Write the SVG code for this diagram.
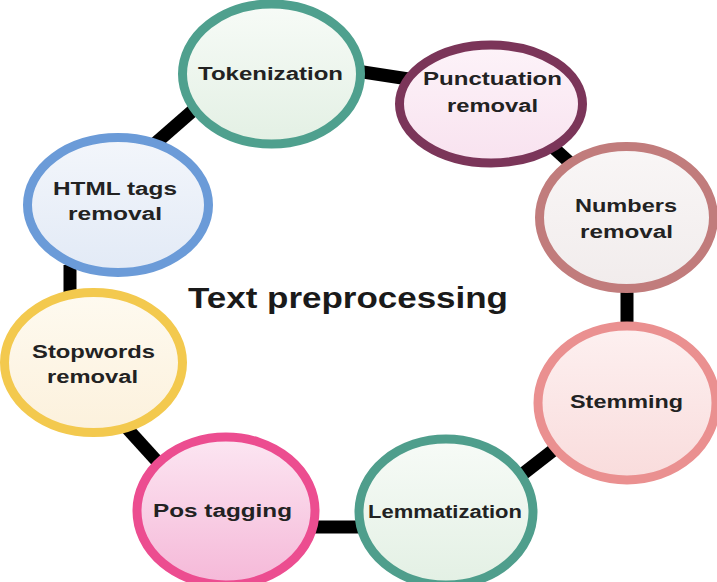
<svg xmlns="http://www.w3.org/2000/svg" width="717" height="582" viewBox="0 0 717 582">
<defs>
<linearGradient id="gGreen" x1="0" y1="0" x2="0" y2="1"><stop offset="0" stop-color="#f7fbf7"/><stop offset="1" stop-color="#e3f0e4"/></linearGradient>
<linearGradient id="gPunc" x1="0" y1="0" x2="0" y2="1"><stop offset="0" stop-color="#fdf3f9"/><stop offset="1" stop-color="#f8e2ef"/></linearGradient>
<linearGradient id="gNum" x1="0" y1="0" x2="0" y2="1"><stop offset="0" stop-color="#f9f6f6"/><stop offset="1" stop-color="#f1ecec"/></linearGradient>
<linearGradient id="gHtml" x1="0" y1="0" x2="0" y2="1"><stop offset="0" stop-color="#f3f6fb"/><stop offset="1" stop-color="#e2eaf6"/></linearGradient>
<linearGradient id="gStop" x1="0" y1="0" x2="0" y2="1"><stop offset="0" stop-color="#fefaf0"/><stop offset="1" stop-color="#fcf1dc"/></linearGradient>
<linearGradient id="gStem" x1="0" y1="0" x2="0" y2="1"><stop offset="0" stop-color="#fdf0f0"/><stop offset="1" stop-color="#f9dcdc"/></linearGradient>
<linearGradient id="gPos" x1="0" y1="0" x2="0" y2="1"><stop offset="0" stop-color="#fce6f2"/><stop offset="1" stop-color="#f5b8d8"/></linearGradient>
<style>
.lbl{font-family:"Liberation Sans",Arial,sans-serif;font-weight:bold;font-size:18px;fill:#222;text-anchor:middle}
.ttl{font-family:"Liberation Sans",Arial,sans-serif;font-weight:bold;font-size:29px;fill:#1a1a1a;text-anchor:middle}
.con{stroke:#000;stroke-width:13;fill:none}
ellipse{stroke-width:9}
</style>
</defs>
<rect width="717" height="582" fill="#fff"/>
<g id="connectors">
<line class="con" x1="350" y1="70" x2="415" y2="80"/>
<line class="con" x1="545" y1="140" x2="580" y2="172"/>
<line class="con" x1="627" y1="285" x2="627" y2="330"/>
<line class="con" x1="515" y1="480" x2="560" y2="445"/>
<line class="con" x1="305" y1="527" x2="370" y2="527"/>
<line class="con" x1="115" y1="415" x2="165" y2="470"/>
<line class="con" x1="70" y1="265" x2="70" y2="300"/>
<line class="con" x1="150" y1="148" x2="205" y2="100"/>
</g>
<g id="tokenization">
<ellipse cx="271.5" cy="74" rx="89" ry="70" fill="url(#gGreen)" stroke="#4fa08e"/>
<text class="lbl" x="270.5" y="80" font-size="20" textLength="145" lengthAdjust="spacingAndGlyphs">Tokenization</text>
</g>
<g id="punctuation">
<ellipse cx="491" cy="104" rx="91.5" ry="59" fill="url(#gPunc)" stroke="#7b3559"/>
<text class="lbl" x="492.5" y="85" textLength="139" lengthAdjust="spacingAndGlyphs">Punctuation</text>
<text class="lbl" x="492.5" y="112" textLength="91" lengthAdjust="spacingAndGlyphs">removal</text>
</g>
<g id="numbers">
<ellipse cx="626.5" cy="217.5" rx="87" ry="71" fill="url(#gNum)" stroke="#c17c7c"/>
<text class="lbl" x="626" y="212" font-size="17" textLength="102" lengthAdjust="spacingAndGlyphs">Numbers</text>
<text class="lbl" x="626.5" y="238" font-size="17" textLength="93" lengthAdjust="spacingAndGlyphs">removal</text>
</g>
<g id="html">
<ellipse cx="118" cy="205" rx="90.5" ry="67.5" fill="url(#gHtml)" stroke="#6b9bd8"/>
<text class="lbl" x="115" y="195" textLength="124" lengthAdjust="spacingAndGlyphs">HTML tags</text>
<text class="lbl" x="115" y="220" textLength="94" lengthAdjust="spacingAndGlyphs">removal</text>
</g>
<g id="stopwords">
<ellipse cx="93.5" cy="362.5" rx="89" ry="70" fill="url(#gStop)" stroke="#f3c94e"/>
<text class="lbl" x="93.5" y="358" textLength="123" lengthAdjust="spacingAndGlyphs">Stopwords</text>
<text class="lbl" x="92.5" y="383" textLength="91" lengthAdjust="spacingAndGlyphs">removal</text>
</g>
<g id="stemming">
<ellipse cx="627" cy="403" rx="89" ry="77" fill="url(#gStem)" stroke="#ea9090"/>
<text class="lbl" x="626.5" y="408" textLength="113" lengthAdjust="spacingAndGlyphs">Stemming</text>
</g>
<g id="pos">
<ellipse cx="226" cy="511" rx="89" ry="74" fill="url(#gPos)" stroke="#ec4d90"/>
<text class="lbl" x="222.5" y="517" textLength="139" lengthAdjust="spacingAndGlyphs">Pos tagging</text>
</g>
<g id="lemmatization">
<ellipse cx="446" cy="512" rx="87" ry="73" fill="url(#gGreen)" stroke="#4f9e8c"/>
<text class="lbl" x="445" y="518" textLength="154" lengthAdjust="spacingAndGlyphs">Lemmatization</text>
</g>
<g id="title">
<text class="ttl" x="348" y="308" textLength="320" lengthAdjust="spacingAndGlyphs">Text preprocessing</text>
</g>
</svg>
